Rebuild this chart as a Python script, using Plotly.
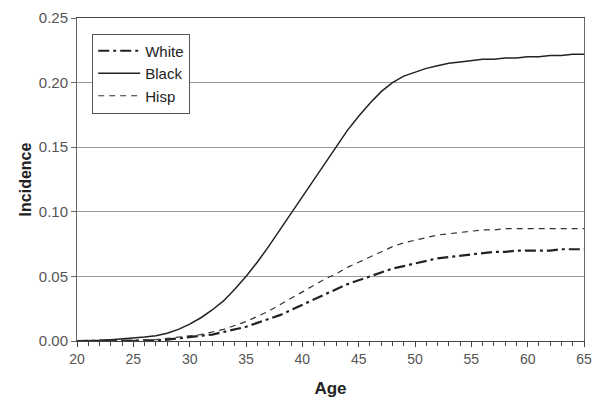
import plotly.graph_objects as go

age = list(range(20, 66))

white = [0.000, 0.000, 0.000, 0.000, 0.000, 0.000, 0.000, 0.0005, 0.001, 0.002,
         0.003, 0.004, 0.005, 0.007, 0.009, 0.011, 0.014, 0.017, 0.020, 0.024,
         0.028, 0.032, 0.036, 0.040, 0.044, 0.047, 0.050, 0.053, 0.056, 0.058,
         0.060, 0.062, 0.064, 0.065, 0.066, 0.067, 0.068, 0.069, 0.069, 0.070,
         0.070, 0.070, 0.070, 0.071, 0.071, 0.071]

black = [0.000, 0.000, 0.0005, 0.001, 0.0015, 0.002, 0.003, 0.004, 0.006, 0.009,
         0.013, 0.018, 0.024, 0.031, 0.040, 0.050, 0.061, 0.073, 0.086, 0.099,
         0.112, 0.125, 0.138, 0.151, 0.163, 0.174, 0.184, 0.193, 0.200, 0.205,
         0.208, 0.211, 0.213, 0.215, 0.216, 0.217, 0.218, 0.218, 0.219, 0.219,
         0.220, 0.220, 0.221, 0.221, 0.222, 0.222]

hisp = [0.000, 0.000, 0.000, 0.000, 0.000, 0.000, 0.0005, 0.001, 0.002, 0.003,
        0.004, 0.005, 0.007, 0.009, 0.012, 0.015, 0.019, 0.023, 0.028, 0.033,
        0.038, 0.043, 0.048, 0.052, 0.057, 0.061, 0.065, 0.069, 0.073, 0.076,
        0.078, 0.080, 0.082, 0.083, 0.084, 0.085, 0.086, 0.086, 0.087, 0.087,
        0.087, 0.087, 0.087, 0.087, 0.087, 0.087]

font = "Liberation Sans, Arial, sans-serif"

fig = go.Figure()
fig.add_trace(go.Scatter(x=age, y=white, name="White", mode="lines",
                         line=dict(color="#222", width=2.2, dash="11px,4px,3px,4px")))
fig.add_trace(go.Scatter(x=age, y=black, name="Black", mode="lines",
                         line=dict(color="#222", width=1.5)))
fig.add_trace(go.Scatter(x=age, y=hisp, name="Hisp", mode="lines",
                         line=dict(color="#333", width=1.2, dash="6px,5px")))

fig.update_layout(
    width=601, height=413,
    margin=dict(l=77, r=9, t=15, b=72),
    paper_bgcolor="white", plot_bgcolor="white",
    font=dict(family=font, color="#444"),
    legend=dict(x=0.03, y=0.952, xanchor="left", yanchor="top",
                bgcolor="white", bordercolor="#555", borderwidth=1,
                font=dict(size=15, color="#222", family=font),
                tracegroupgap=0, itemwidth=42),
    showlegend=True,
)
fig.update_xaxes(
    range=[20, 65], tick0=20, dtick=5, ticks="outside", ticklen=5, tickcolor="#444",
    tickfont=dict(size=14, color="#555"), ticklabeloverflow="allow",
    minor=dict(dtick=1, ticks="outside", ticklen=4, tickcolor="#444"),
    showgrid=False, showline=True, linecolor="#444", linewidth=1, mirror=True,
    zeroline=False,
    title=dict(text="<b>Age</b>", font=dict(size=17, color="#222"), standoff=16),
)
fig.update_yaxes(
    range=[0, 0.25], dtick=0.05, tickformat=".2f", ticks="outside", ticklen=5,
    tickcolor="#666", tickfont=dict(size=15, color="#555"),
    showgrid=True, gridcolor="#9a9a9a", gridwidth=1,
    showline=True, linecolor="#666", linewidth=1, mirror=True,
    zeroline=False,
    title=dict(text="<b>Incidence</b>", font=dict(size=16, color="#222"), standoff=3),
)

# the page body has a default 8px margin; drop it so the chart sits at 0,0
fig.write_html("out.html", config={"displayModeBar": False},
               post_script="document.body.style.margin='0';")
